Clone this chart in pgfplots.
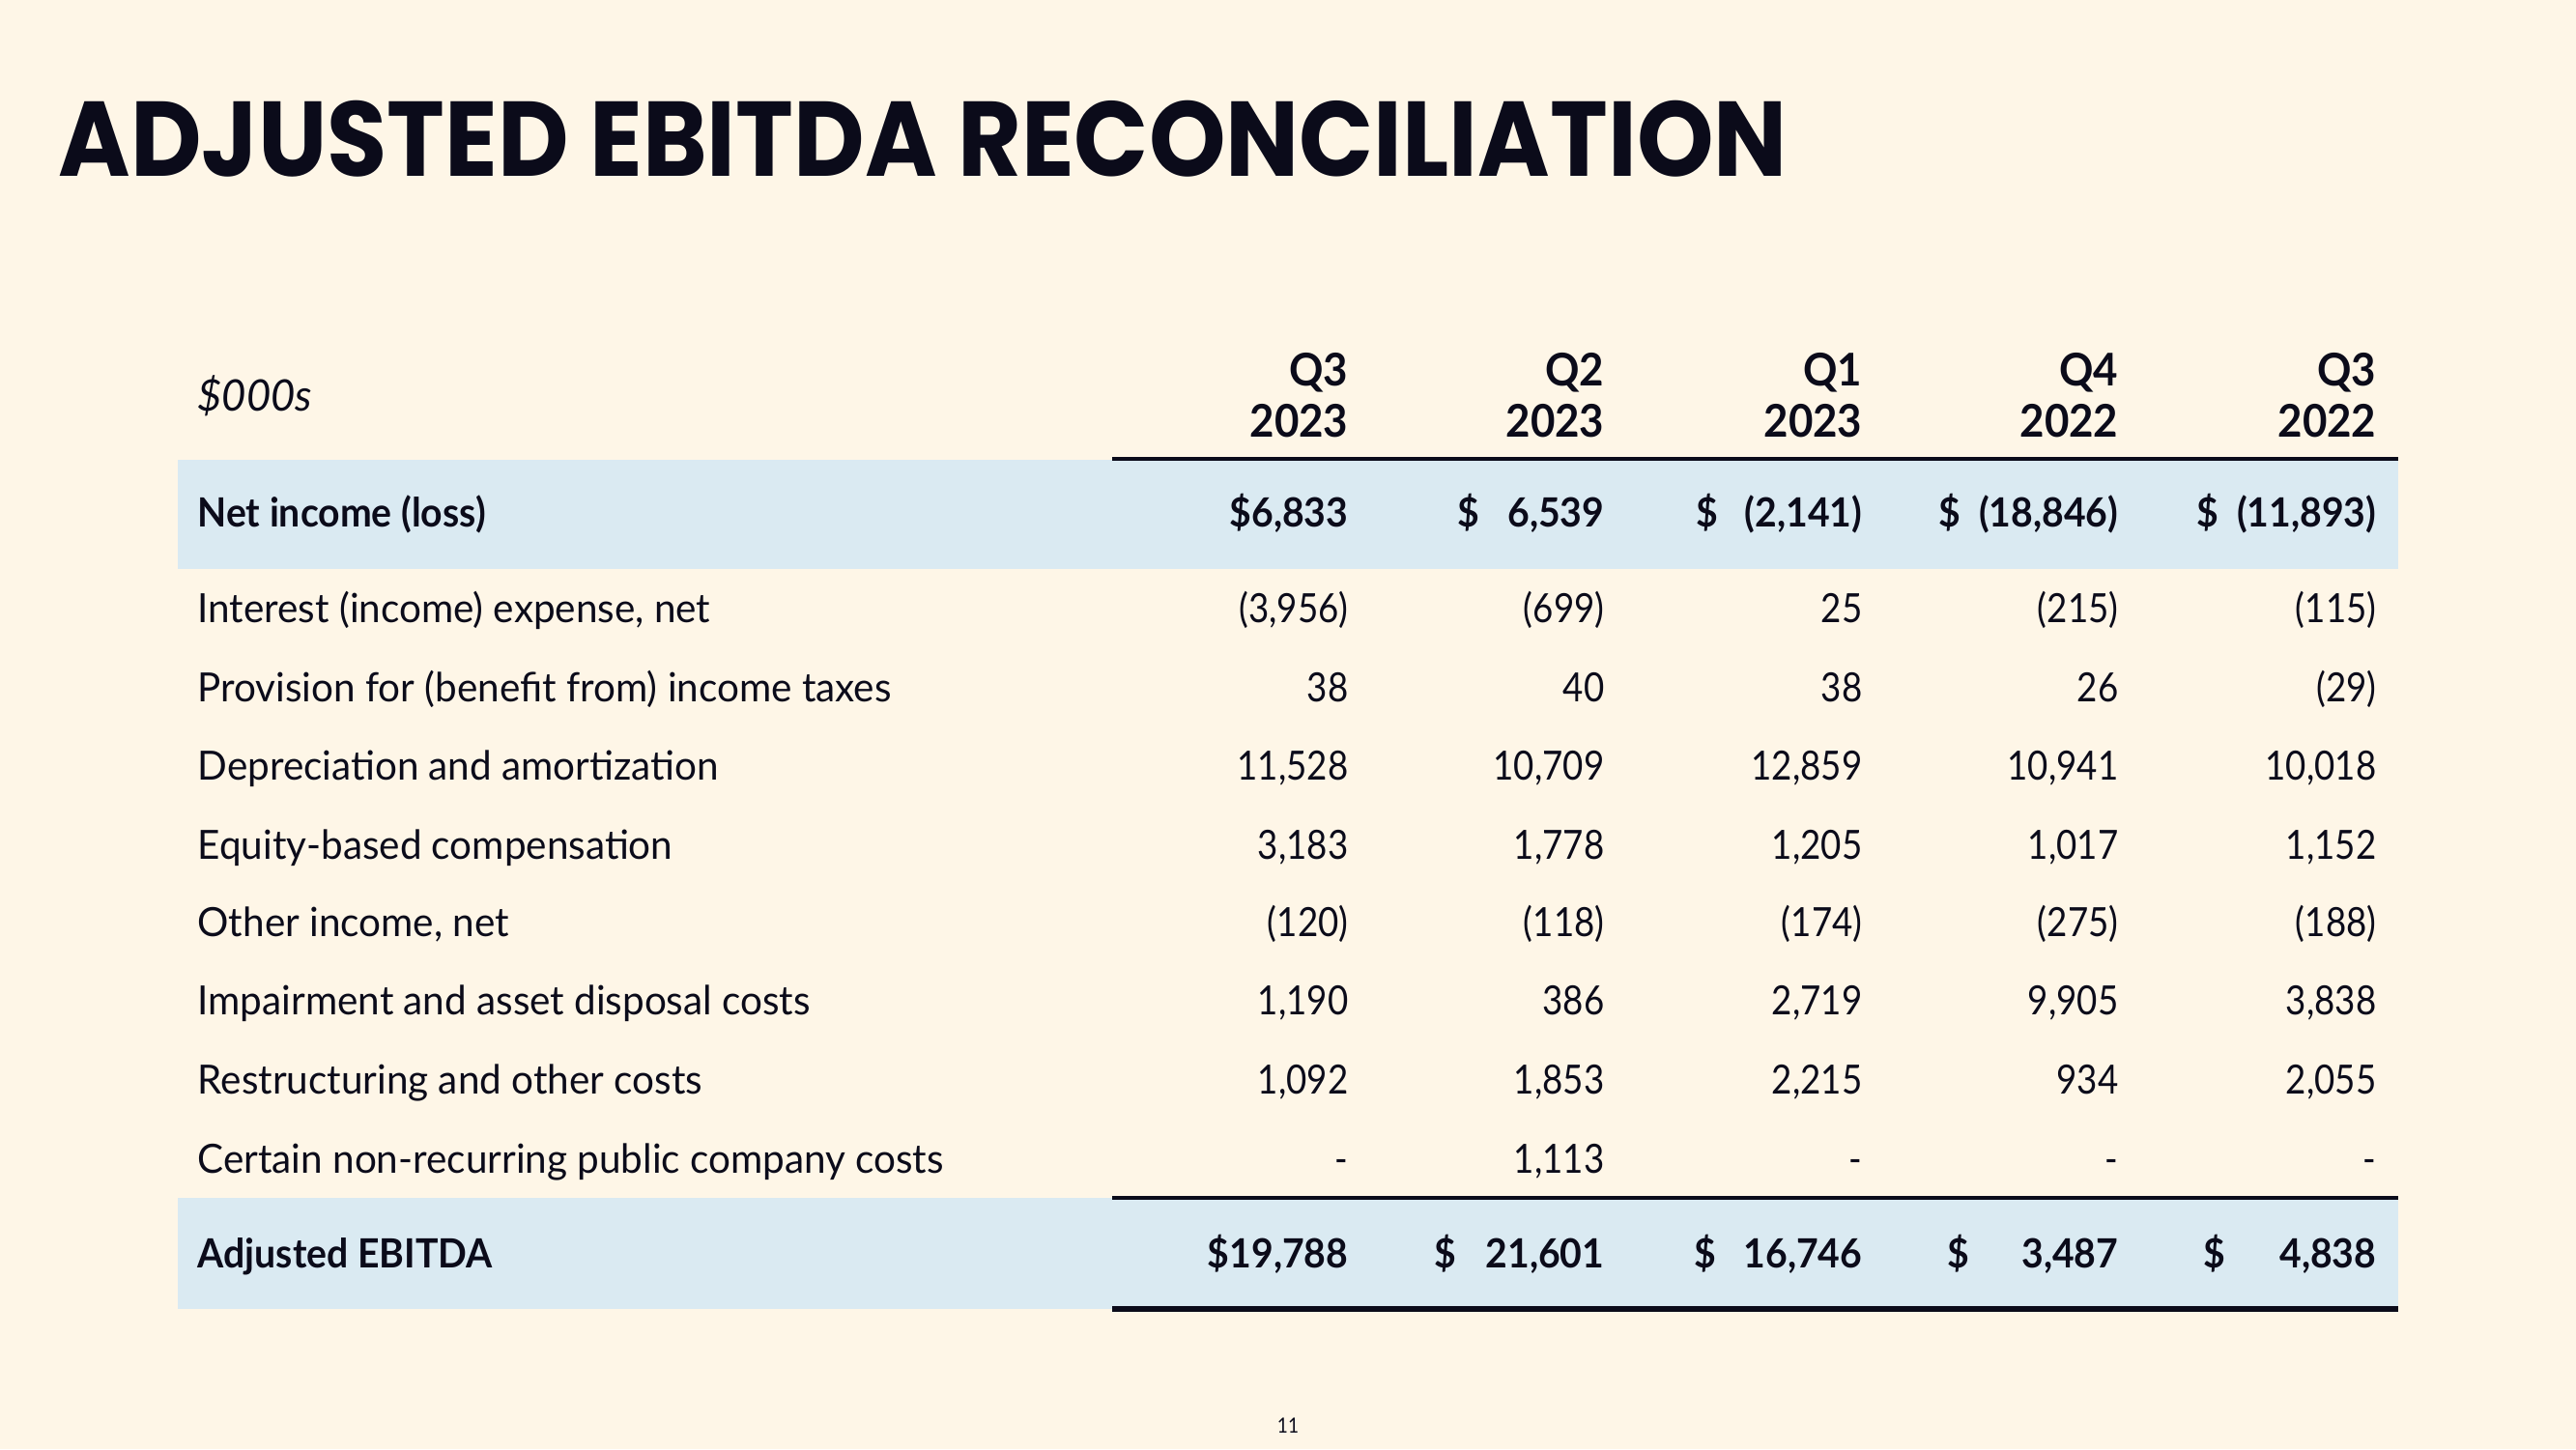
\documentclass[border=0pt]{standalone}
\usepackage{pgfplots}
\pgfplotsset{compat=1.18}
\usepackage{fontspec}
\setmainfont{Lato}
\newfontfamily\titlefont[FakeStretch=0.92]{Poppins}
\newfontfamily\lblfont[FakeStretch=0.97]{Lato}
\newfontfamily\numfont[FakeStretch=0.88]{Lato}
\newfontfamily\boldfont[FakeStretch=0.94]{Lato}
\definecolor{cream}{HTML}{FEF6E7}
\definecolor{band}{HTML}{DAEAF2}
\definecolor{ink}{HTML}{0B0B1A}

% one text series: nodes near coords from symbolic meta
\pgfplotsset{
  txt/.style 2 args={only marks, mark=none, point meta=explicit symbolic,
    nodes near coords,
    every node near coord/.style={anchor=#1, inner sep=0pt, text=ink, font=#2}},
}

\begin{document}
\begin{tikzpicture}
\begin{axis}[
  width=799.8pt, height=450pt, scale only axis,
  xmin=0, xmax=2666, ymin=0, ymax=1500, y dir=reverse,
  axis lines=none, ticks=none, clip=false,
]
\fill[cream] (rel axis cs:0,0) rectangle (rel axis cs:1,1);

% shaded rows
\addplot[fill=band, draw=none] coordinates {(184,476) (2482,476) (2482,589) (184,589)} -- cycle;
\addplot[fill=band, draw=none] coordinates {(184,1240) (2482,1240) (2482,1355) (184,1355)} -- cycle;

% rules
\addplot[ink, line width=1.2pt] coordinates {(1151,475) (2482,475)};
\addplot[ink, line width=1.1pt] coordinates {(1151,1240) (2482,1240)};
\addplot[ink, line width=1.8pt] coordinates {(1151,1355) (2482,1355)};

% title
\addplot[txt={base west}{\titlefont\bfseries\fontsize{33}{33}\selectfont}] coordinates {(60,182) [ADJUSTED EBITDA RECONCILIATION]};

% header
\addplot[txt={mid west}{\lblfont\itshape\fontsize{13.5}{13.5}\selectfont}] coordinates {(204,417) [\$000s]};
\addplot[txt={mid east}{\boldfont\bfseries\fontsize{14}{14}\selectfont}] coordinates {
  (1396,391) [Q3] (1661,391) [Q2] (1928,391) [Q1] (2193,391) [Q4] (2460,391) [Q3]
  (1396,444) [2023] (1661,444) [2023] (1928,444) [2023] (2193,444) [2022] (2460,444) [2022]
};

% row labels
\addplot[txt={mid west}{\boldfont\bfseries\fontsize{12.5}{12.5}\selectfont}] coordinates {
  (204,537) [Net income (loss)] (204,1304) [Adjusted EBITDA]
};
\addplot[txt={mid west}{\lblfont\fontsize{12.5}{12.5}\selectfont}] coordinates {
  (204,636) [Interest (income) expense, net]
  (204,718) [Provision for (benefit from) income taxes]
  (204,799) [Depreciation and amortization]
  (204,881) [Equity-based compensation]
  (204,961) [Other income, net]
  (204,1042) [Impairment and asset disposal costs]
  (204,1124) [Restructuring and other costs]
  (204,1206) [Certain non-recurring public company costs]
};

% bold totals
\addplot[txt={mid east}{\boldfont\bfseries\fontsize{12.5}{12.5}\selectfont}] coordinates {
  (1396,537) [\$6,833] (1661,537) [6,539] (1928,537) [(2,141)] (2193,537) [(18,846)] (2460,537) [(11,893)]
  (1396,1304) [\$19,788] (1661,1304) [21,601] (1928,1304) [16,746] (2193,1304) [3,487] (2460,1304) [4,838]
};
\addplot[txt={mid west}{\boldfont\bfseries\fontsize{12.5}{12.5}\selectfont}] coordinates {
  (1508,537) [\$] (1755,537) [\$] (2006,537) [\$] (2273,537) [\$]
  (1484,1304) [\$] (1753,1304) [\$] (2015,1304) [\$] (2280,1304) [\$]
};

% body values, columns Q3 2023 .. Q3 2022
\addplot[txt={mid east}{\numfont\fontsize{12.5}{12.5}\selectfont}] coordinates {
  (1396,636) [(3,956)] (1661,636) [(699)] (1928,636) [25] (2193,636) [(215)] (2460,636) [(115)]
  (1396,718) [38] (1661,718) [40] (1928,718) [38] (2193,718) [26] (2460,718) [(29)]
  (1396,799) [11,528] (1661,799) [10,709] (1928,799) [12,859] (2193,799) [10,941] (2460,799) [10,018]
  (1396,881) [3,183] (1661,881) [1,778] (1928,881) [1,205] (2193,881) [1,017] (2460,881) [1,152]
  (1396,961) [(120)] (1661,961) [(118)] (1928,961) [(174)] (2193,961) [(275)] (2460,961) [(188)]
  (1396,1042) [1,190] (1661,1042) [386] (1928,1042) [2,719] (2193,1042) [9,905] (2460,1042) [3,838]
  (1396,1124) [1,092] (1661,1124) [1,853] (1928,1124) [2,215] (2193,1124) [934] (2460,1124) [2,055]
  (1396,1206) [-] (1661,1206) [1,113] (1928,1206) [-] (2193,1206) [-] (2460,1206) [-]
};

% page number
\addplot[txt={center}{\numfont\fontsize{6.5}{6.5}\selectfont}] coordinates {(1333,1476) [11]};
\end{axis}
\end{tikzpicture}
\end{document}
